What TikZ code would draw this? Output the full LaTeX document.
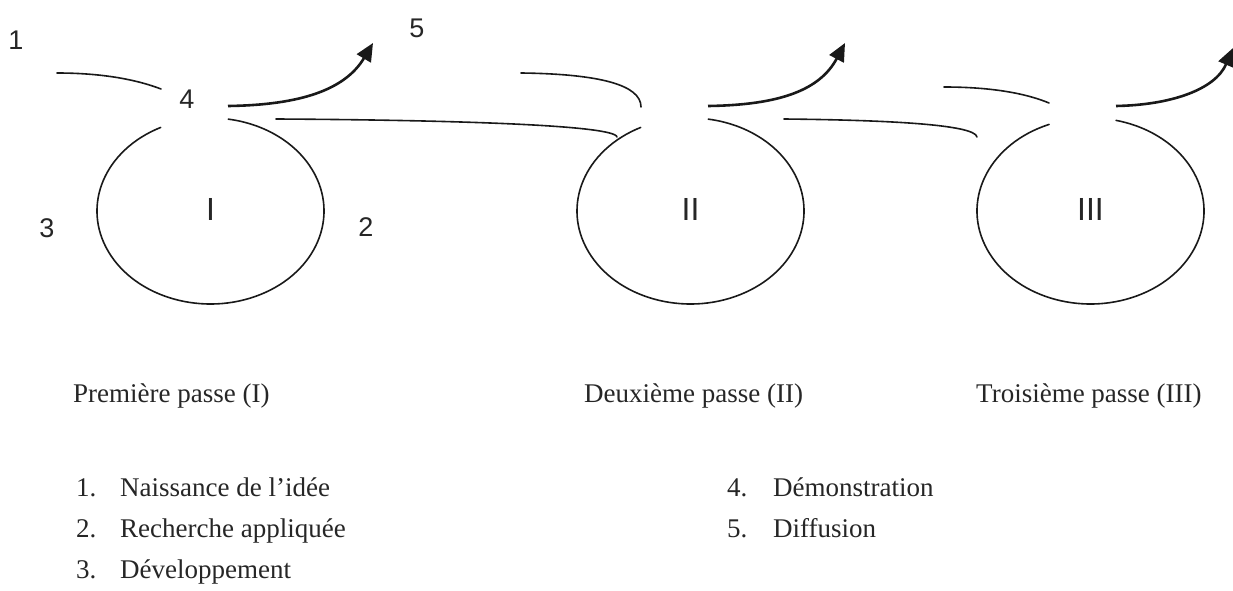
\documentclass[tikz,border=0pt]{standalone}
\usepackage{fontspec}
\setmainfont{Liberation Serif}
\newfontfamily\arialfont{Liberation Sans}
\usetikzlibrary{arrows.meta}
\begin{document}
\begin{tikzpicture}[x=1pt,y=1pt,
  curveline/.style={line width=1.6pt, black!90, line cap=round},
  flow/.style={line width=2.6pt, black!90, -{Triangle[length=18pt,width=16pt]}},
  num/.style={font=\arialfont\fontsize{27}{27}\selectfont, inner sep=0pt, text=black!85},
  roman/.style={font=\arialfont\fontsize{32}{32}\selectfont, inner sep=0pt, text=black!85},
  txt/.style={font=\fontsize{27}{32}\selectfont, inner sep=0pt, anchor=base west, text=black!85}]
\useasboundingbox (0,0) rectangle (1233,590);

% ---- labels ----
\node[num] (n1) at (16,550) {1};
\node[num] (n5) at (417,562) {5};
\node[num] (n4) at (187,491) {4};
\node[num] (n3) at (47,362) {3};
\node[num] (n2) at (366,363) {2};
\node[roman] (r1) at (210.5,381) {I};
\node[roman] (r2) at (690.5,381) {II};
\node[roman] (r3) at (1090.5,381) {III};

% ---- ellipses (open at the top) ----
\coordinate (c1) at (210.5,379);
\coordinate (c2) at (690.5,379);
\coordinate (c3) at (1090.5,379);
\draw[curveline] (c1) ++(116:113.5 and 93) arc[start angle=116, end angle=441, x radius=113.5, y radius=93];
\draw[curveline] (c2) ++(116:113.5 and 93) arc[start angle=116, end angle=441, x radius=113.5, y radius=93];
\draw[curveline] (c3) ++(111.4:113.5 and 93) arc[start angle=111.4, end angle=437, x radius=113.5, y radius=93];

% ---- pass I ----
\coordinate (a1s) at (57,517);   \coordinate (a1e) at (161,501);
\coordinate (f1s) at (228,484);  \coordinate (f1e) at (373,547);
\coordinate (k1s) at (276,471);  \coordinate (k1e) at (617,453);
\draw[curveline] (a1s) .. controls (100,517) and (135,511) .. (a1e);
\draw[flow] (f1s) .. controls (300,485) and (345,500) .. (f1e);
\draw[curveline] (k1s) .. controls (450,470) and (615,465) .. (k1e);

% ---- pass II ----
\coordinate (a2s) at (521,517);  \coordinate (a2e) at (641,483);
\coordinate (f2s) at (708,484);  \coordinate (f2e) at (845,547);
\coordinate (k2s) at (784,471);  \coordinate (k2e) at (977,453);
\draw[curveline] (a2s) .. controls (600,516) and (641,505) .. (a2e);
\draw[flow] (f2s) .. controls (780,485) and (820,500) .. (f2e);
\draw[curveline] (k2s) .. controls (880,470) and (975,466) .. (k2e);

% ---- pass III ----
\coordinate (a3s) at (944,503);  \coordinate (a3e) at (1049,487);
\coordinate (f3s) at (1116,484); \coordinate (f3e) at (1233,542);
\draw[curveline] (a3s) .. controls (990,503) and (1025,497) .. (a3e);
\draw[flow] (f3s) .. controls (1170,485) and (1215,500) .. (f3e);

% ---- captions ----
\node[txt] (p1) at (73,188) {Première passe (I)};
\node[txt] (p2) at (584,188) {Deuxième passe (II)};
\node[txt] (p3) at (976,188) {Troisième passe (III)};

% ---- legend ----
\node[txt] (l1) at (76,94) {1.};
\node[txt] (t1) at (120,94) {Naissance de l’idée};
\node[txt] (l2) at (76,53) {2.};
\node[txt] (t2) at (120,53) {Recherche appliquée};
\node[txt] (l3) at (76,12) {3.};
\node[txt] (t3) at (120,12) {Développement};
\node[txt] (l4) at (727,94) {4.};
\node[txt] (t4) at (773,94) {Démonstration};
\node[txt] (l5) at (727,53) {5.};
\node[txt] (t5) at (773,53) {Diffusion};
\end{tikzpicture}
\end{document}
